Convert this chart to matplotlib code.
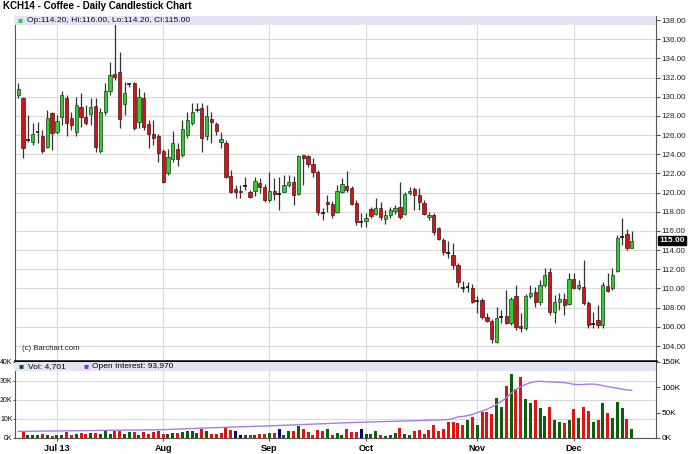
import numpy as np
import matplotlib
matplotlib.use("Agg")
import matplotlib.pyplot as plt
from matplotlib.patches import Rectangle

plt.rcParams['font.family'] = ['Liberation Sans', 'DejaVu Sans']

# --- data (one entry per trading day) ---
opens = [130.20, 129.85, 125.50, 125.30, 126.30, 125.90, 124.75, 128.30, 126.30, 127.90,
         129.85, 127.80, 126.30, 128.95, 127.90, 128.20, 129.05, 124.35, 128.40, 130.60,
         132.35, 132.60, 129.25, 131.35, 131.45, 127.35, 129.85, 127.15, 126.10, 125.90,
         124.35, 122.05, 123.50, 124.55, 123.90, 126.00, 127.25, 128.60, 128.80, 125.90,
         127.70, 127.15, 125.30, 125.15, 121.75, 120.40, 120.20, 120.70, 120.05, 120.15,
         121.00, 120.60, 119.25, 120.15, 119.85, 120.05, 120.80, 121.10, 119.85, 123.90,
         123.80, 123.00, 122.15, 117.90, 119.00, 118.80, 118.00, 120.05, 120.70, 120.50,
         118.90, 116.95, 117.05, 118.30, 117.75, 118.40, 117.25, 117.65, 118.10, 118.50,
         117.75, 119.95, 120.40, 119.75, 118.90, 117.45, 117.65, 116.30, 115.05, 113.70,
         113.50, 112.45, 110.05, 110.15, 110.05, 108.70, 108.80, 107.05, 106.60, 104.40,
         107.05, 107.15, 106.40, 109.20, 106.10, 105.90, 109.20, 109.65, 108.60, 110.35,
         111.70, 107.55, 108.60, 108.90, 108.40, 111.00, 110.05, 110.15, 108.50, 106.30,
         106.70, 106.20, 110.25, 110.05, 111.85, 115.35, 115.70, 114.20]
highs = [131.45, 130.00, 128.10, 127.25, 127.35, 126.55, 128.60, 128.40, 128.10, 130.60,
         130.20, 128.40, 129.95, 130.40, 129.15, 129.85, 129.85, 128.80, 131.45, 133.60,
         137.90, 134.65, 131.55, 131.45, 131.55, 130.90, 130.50, 127.55, 127.55, 126.10,
         124.55, 124.55, 126.40, 125.15, 127.55, 128.40, 129.35, 129.35, 129.35, 129.15,
         128.40, 127.35, 126.30, 125.50, 122.35, 120.80, 120.80, 121.65, 120.25, 121.65,
         121.50, 120.90, 122.15, 121.50, 121.65, 121.85, 121.85, 121.75, 123.90, 123.90,
         123.90, 123.60, 122.35, 118.40, 119.75, 119.15, 120.80, 121.50, 122.25, 120.70,
         119.25, 117.85, 117.85, 118.50, 119.45, 119.00, 118.20, 118.50, 118.70, 121.10,
         120.05, 120.60, 120.60, 120.50, 119.25, 118.00, 117.85, 116.40, 115.25, 114.95,
         114.75, 112.65, 110.80, 110.70, 110.45, 109.20, 109.00, 107.45, 106.80, 108.05,
         107.75, 109.85, 109.10, 110.35, 107.45, 109.45, 110.35, 110.15, 110.90, 112.15,
         112.15, 109.30, 109.55, 109.55, 111.60, 111.60, 110.90, 112.95, 108.70, 107.55,
         108.30, 110.70, 111.60, 112.15, 115.60, 117.35, 116.20, 116.00]
lows = [129.85, 123.60, 125.30, 124.95, 125.20, 124.15, 124.65, 124.45, 126.10, 127.05,
        125.90, 126.55, 125.90, 126.85, 127.05, 127.05, 124.25, 124.15, 128.10, 130.20,
        131.75, 126.75, 128.10, 131.00, 126.55, 126.75, 126.55, 124.65, 124.95, 123.20,
        121.00, 121.85, 123.20, 122.75, 123.70, 125.70, 127.05, 128.40, 124.25, 125.50,
        125.15, 126.00, 124.65, 121.50, 119.95, 119.45, 119.45, 120.25, 119.45, 119.65,
        119.95, 119.00, 119.00, 119.25, 118.20, 120.05, 120.60, 118.70, 119.75, 120.80,
        122.65, 121.65, 117.65, 117.15, 118.00, 117.35, 117.85, 119.95, 120.05, 118.70,
        116.65, 116.40, 116.40, 117.35, 117.65, 117.15, 116.75, 117.35, 117.75, 117.25,
        117.65, 119.75, 118.20, 118.20, 117.65, 117.15, 115.60, 115.05, 113.50, 113.20,
        112.05, 110.15, 109.65, 109.65, 108.50, 107.45, 106.80, 106.50, 104.30, 104.30,
        106.40, 106.30, 106.20, 105.65, 105.45, 105.65, 109.00, 108.05, 108.30, 110.15,
        107.25, 106.40, 107.75, 107.25, 108.30, 109.95, 109.85, 108.30, 105.90, 105.90,
        105.90, 105.90, 109.65, 109.85, 111.70, 114.55, 114.00, 114.20]
closes = [130.80, 124.65, 125.50, 126.10, 126.30, 124.35, 127.80, 126.20, 127.45, 130.20,
          127.25, 127.05, 129.15, 127.90, 127.25, 128.95, 124.75, 128.40, 130.60, 132.25,
          132.05, 127.70, 130.40, 131.35, 126.75, 129.95, 126.85, 126.10, 125.70, 124.15,
          121.10, 123.70, 125.15, 123.50, 126.65, 127.55, 128.40, 128.75, 125.70, 128.00,
          127.35, 126.40, 125.60, 121.65, 120.05, 120.05, 120.05, 120.70, 119.55, 121.20,
          120.60, 119.25, 120.15, 119.85, 119.85, 120.80, 121.10, 119.75, 123.80, 123.60,
          123.00, 122.15, 118.00, 117.90, 118.80, 117.65, 120.15, 120.90, 120.25, 118.80,
          116.95, 116.95, 117.35, 117.55, 118.40, 117.45, 117.65, 118.20, 118.40, 117.45,
          119.85, 120.15, 119.75, 119.00, 117.75, 117.65, 115.90, 115.15, 113.80, 113.70,
          112.45, 110.70, 110.05, 110.15, 108.60, 108.70, 107.00, 106.60, 104.75, 106.90,
          107.05, 106.40, 108.90, 106.00, 105.90, 109.20, 109.55, 108.60, 110.35, 111.40,
          107.55, 108.60, 108.90, 108.30, 111.00, 110.05, 110.35, 108.50, 106.20, 106.30,
          106.15, 110.35, 109.75, 111.40, 115.25, 115.35, 114.20, 115.00]
# volume (thousands of contracts)
volume_k = [0.0, 3.8, 1.7, 1.4, 1.4, 2.1, 1.4, 1.2, 1.7, 1.4,
            3.0, 1.7, 2.1, 2.6, 2.3, 2.6, 2.6, 2.1, 3.5, 2.3,
            3.5, 3.8, 2.1, 3.0, 3.0, 1.7, 3.0, 2.3, 3.1, 3.8,
            2.1, 2.1, 2.6, 2.6, 3.1, 3.5, 3.5, 2.6, 4.9, 3.5,
            2.3, 2.3, 2.6, 5.6, 4.4, 3.5, 1.7, 1.6, 1.4, 1.7,
            2.1, 2.3, 2.6, 2.4, 4.9, 1.7, 3.5, 3.8, 6.4, 4.7,
            3.0, 1.7, 4.4, 3.8, 4.7, 1.4, 2.6, 1.7, 4.9, 3.1,
            3.1, 4.9, 2.3, 2.3, 3.5, 1.7, 1.2, 1.4, 2.6, 5.2,
            2.3, 1.4, 3.8, 4.4, 2.3, 4.4, 6.8, 3.7, 4.9, 8.2,
            8.2, 7.8, 7.0, 9.6, 11.0, 6.6, 13.6, 13.6, 12.7, 21.1,
            16.5, 27.5, 33.4, 25.8, 31.8, 20.7, 18.3, 20.0, 15.8, 11.8,
            16.5, 9.2, 8.4, 7.8, 9.2, 15.1, 10.4, 16.2, 14.1, 8.4,
            9.6, 18.3, 13.2, 10.6, 18.8, 15.8, 9.9, 4.701]
# open interest (thousands of contracts)
open_int_k = [13.0, 13.1, 13.3, 13.4, 13.4, 13.6, 13.7, 13.8, 13.9, 14.1,
              14.2, 14.3, 14.4, 14.4, 14.6, 14.7, 14.8, 14.9, 15.0, 15.2,
              15.3, 15.4, 15.4, 15.5, 15.6, 15.7, 15.8, 15.9, 16.0, 16.1,
              16.3, 16.8, 17.3, 17.6, 18.0, 18.4, 18.8, 19.2, 19.5, 19.8,
              20.1, 20.4, 20.6, 20.9, 21.3, 21.6, 21.9, 22.2, 22.5, 22.8,
              23.1, 23.4, 23.8, 24.2, 24.6, 25.0, 25.4, 25.8, 26.3, 26.7,
              27.1, 27.5, 27.8, 28.2, 28.5, 28.8, 29.2, 29.6, 30.0, 30.4,
              30.7, 31.0, 31.3, 31.6, 31.9, 32.1, 32.4, 32.7, 33.0, 33.2,
              33.5, 33.8, 34.0, 34.3, 34.6, 34.9, 35.2, 35.5, 35.8, 36.2,
              38.5, 41.5, 42.5, 44.0, 46.5, 50.0, 53.0, 56.5, 61.0, 66.0,
              72.0, 79.0, 88.0, 95.0, 101.0, 105.5, 108.5, 111.0, 111.5, 110.8,
              110.3, 110.0, 109.5, 109.0, 107.5, 105.5, 105.0, 105.5, 106.0, 106.0,
              105.0, 103.0, 101.0, 99.5, 98.0, 96.0, 94.5, 93.97]

month_pos = [8, 30, 52, 72, 95, 115]
month_labels = ["Jul 13", "Aug", "Sep", "Oct", "Nov", "Dec"]
price_ticks = list(range(104, 139, 2))

W, H = 688, 454
UP, DOWN, FLAT = '#33cc33', '#d41414', '#000000'
GRID = '#d9d9d9'
BAND = '#e3e3f7'

o = np.array(opens); h = np.array(highs); l = np.array(lows); c = np.array(closes)
x = np.arange(len(c))


def fx(px):
    return px / W


def fy(py):
    return 1 - py / H


fig = plt.figure(figsize=(W / 100, H / 100), dpi=100)
fig.patch.set_facecolor('white')

left, right = 15.5, 655.5
ax = fig.add_axes([fx(left), fy(360), fx(right - left), (360 - 16) / H])
axv = fig.add_axes([fx(left), fy(438), fx(right - left), (438 - 361) / H])

# --- price panel ---
ax.set_xlim(-0.56, 131.9)
ax.set_ylim(102.54, 138.42)
ax.set_yticks(price_ticks)
ax.set_yticklabels([f"{t:.2f}" for t in price_ticks])
ax.yaxis.tick_right()
ax.tick_params(axis='y', labelsize=5.8, length=3, pad=1.5, color='#555555', labelcolor='#222222')
ax.set_xticks(month_pos)
ax.tick_params(axis='x', length=0, labelbottom=False)
ax.grid(True, color=GRID, lw=0.8)
ax.set_axisbelow(True)
for s in ['top', 'bottom']:
    ax.spines[s].set_visible(False)
ax.spines['left'].set_color('#555555')
ax.spines['right'].set_color('#555555')

ax.vlines(x, l, h, color='#333333', lw=0.9, zorder=2)
up = c > o
dn = c < o
fl = c == o
ax.bar(x[up], (c - o)[up], bottom=o[up], width=0.68, color=UP, edgecolor='#1a3a1a', lw=0.5, zorder=3)
ax.bar(x[dn], (o - c)[dn], bottom=c[dn], width=0.68, color=DOWN, edgecolor='#3a1a1a', lw=0.5, zorder=3)
ax.hlines(c[fl], x[fl] - 0.4, x[fl] + 0.4, color=FLAT, lw=1.1, zorder=3)

# legend band
ax.add_patch(Rectangle((0, 1 - 9 / 344), 1, 9 / 344, transform=ax.transAxes,
                       facecolor=BAND, edgecolor='none', zorder=4))
fig.text(fx(20), fy(20.5), "\u25a0", color=UP, fontsize=6, va='center', ha='center', zorder=5)
fig.text(fx(27), fy(20.5),
         f"Op:{opens[-1]:.2f}, Hi:{highs[-1]:.2f}, Lo:{lows[-1]:.2f}, Cl:{closes[-1]:.2f}",
         fontsize=6.1, va='center', ha='left', color='#111111')
fig.text(fx(22), fy(349), "(c) Barchart.com", fontsize=5.6, va='center', ha='left', color='#222222')

ax.annotate(f"{closes[-1]:.2f}", xy=(1, closes[-1]), xycoords=('axes fraction', 'data'),
            xytext=(2.8, 0), textcoords='offset points', va='center', ha='left',
            fontsize=6.0, color='white', fontweight='bold',
            bbox=dict(boxstyle='square,pad=0.12', fc='black', ec='black'))

fig.text(fx(3), fy(6), "KCH14 - Coffee - Daily Candlestick Chart", fontsize=7,
         fontweight='bold', va='center', ha='left')

# --- volume panel ---
vol_colors = []
for i in range(len(c)):
    if i == 0 or c[i] > c[i - 1]:
        vol_colors.append('#0b5e0b')
    elif c[i] < c[i - 1]:
        vol_colors.append('#e01212')
    else:
        vol_colors.append('#000080')

axv.set_xlim(-0.56, 131.9)
axv.set_ylim(0, 40.4)
axv.bar(x, volume_k, width=0.62, color=vol_colors, zorder=3)
axv.set_yticks([0, 10, 20, 30, 40])
axv.set_yticklabels(['0K', '10K', '20K', '30K', '40K'])
axv.tick_params(axis='y', labelsize=5.0, length=1.5, pad=0.5, color='#555555')
axv.set_xticks(month_pos)
axv.set_xticklabels(month_labels, fontweight='bold')
axv.tick_params(axis='x', labelsize=6.5, length=2, pad=2, color='#555555')
axv.grid(True, color=GRID, lw=0.8)
axv.set_axisbelow(True)
axv.spines['top'].set_linewidth(1.8)
axv.spines['top'].set_color('black')
axv.spines['bottom'].set_color('#555555')
axv.spines['left'].set_color('#555555')
axv.spines['right'].set_color('#555555')

axo = axv.twinx()
axo.set_ylim(0, 151.5)
axo.plot(x, open_int_k, color='#a77ee0', lw=1.0, zorder=4)
axo.set_yticks([0, 50, 100, 150])
axo.set_yticklabels(['0K', '50K', '100K', '150K'])
axo.tick_params(axis='y', labelsize=5.9, length=3, pad=1.5, color='#555555')
for s in axo.spines.values():
    s.set_visible(False)

axo.add_patch(Rectangle((0, 1 - 10 / 77), 1, 10 / 77 - 0.01, transform=axo.transAxes,
                        facecolor=BAND, edgecolor='none', zorder=5))
fig.text(fx(21), fy(366.5), "\u25a0", color='#0b5e0b', fontsize=6, va='center', ha='center')
fig.text(fx(27.5), fy(366.5), f"Vol: {volume_k[-1] * 1000:,.0f}", fontsize=6.0, va='center', ha='left')
fig.text(fx(86), fy(366.5), "\u25a0", color='#8b2be2', fontsize=6, va='center', ha='center')
fig.text(fx(92.5), fy(366.5), f"Open Interest: {open_int_k[-1] * 1000:,.0f}", fontsize=6.0,
         va='center', ha='left')

fig.savefig("out.png", dpi=100)
